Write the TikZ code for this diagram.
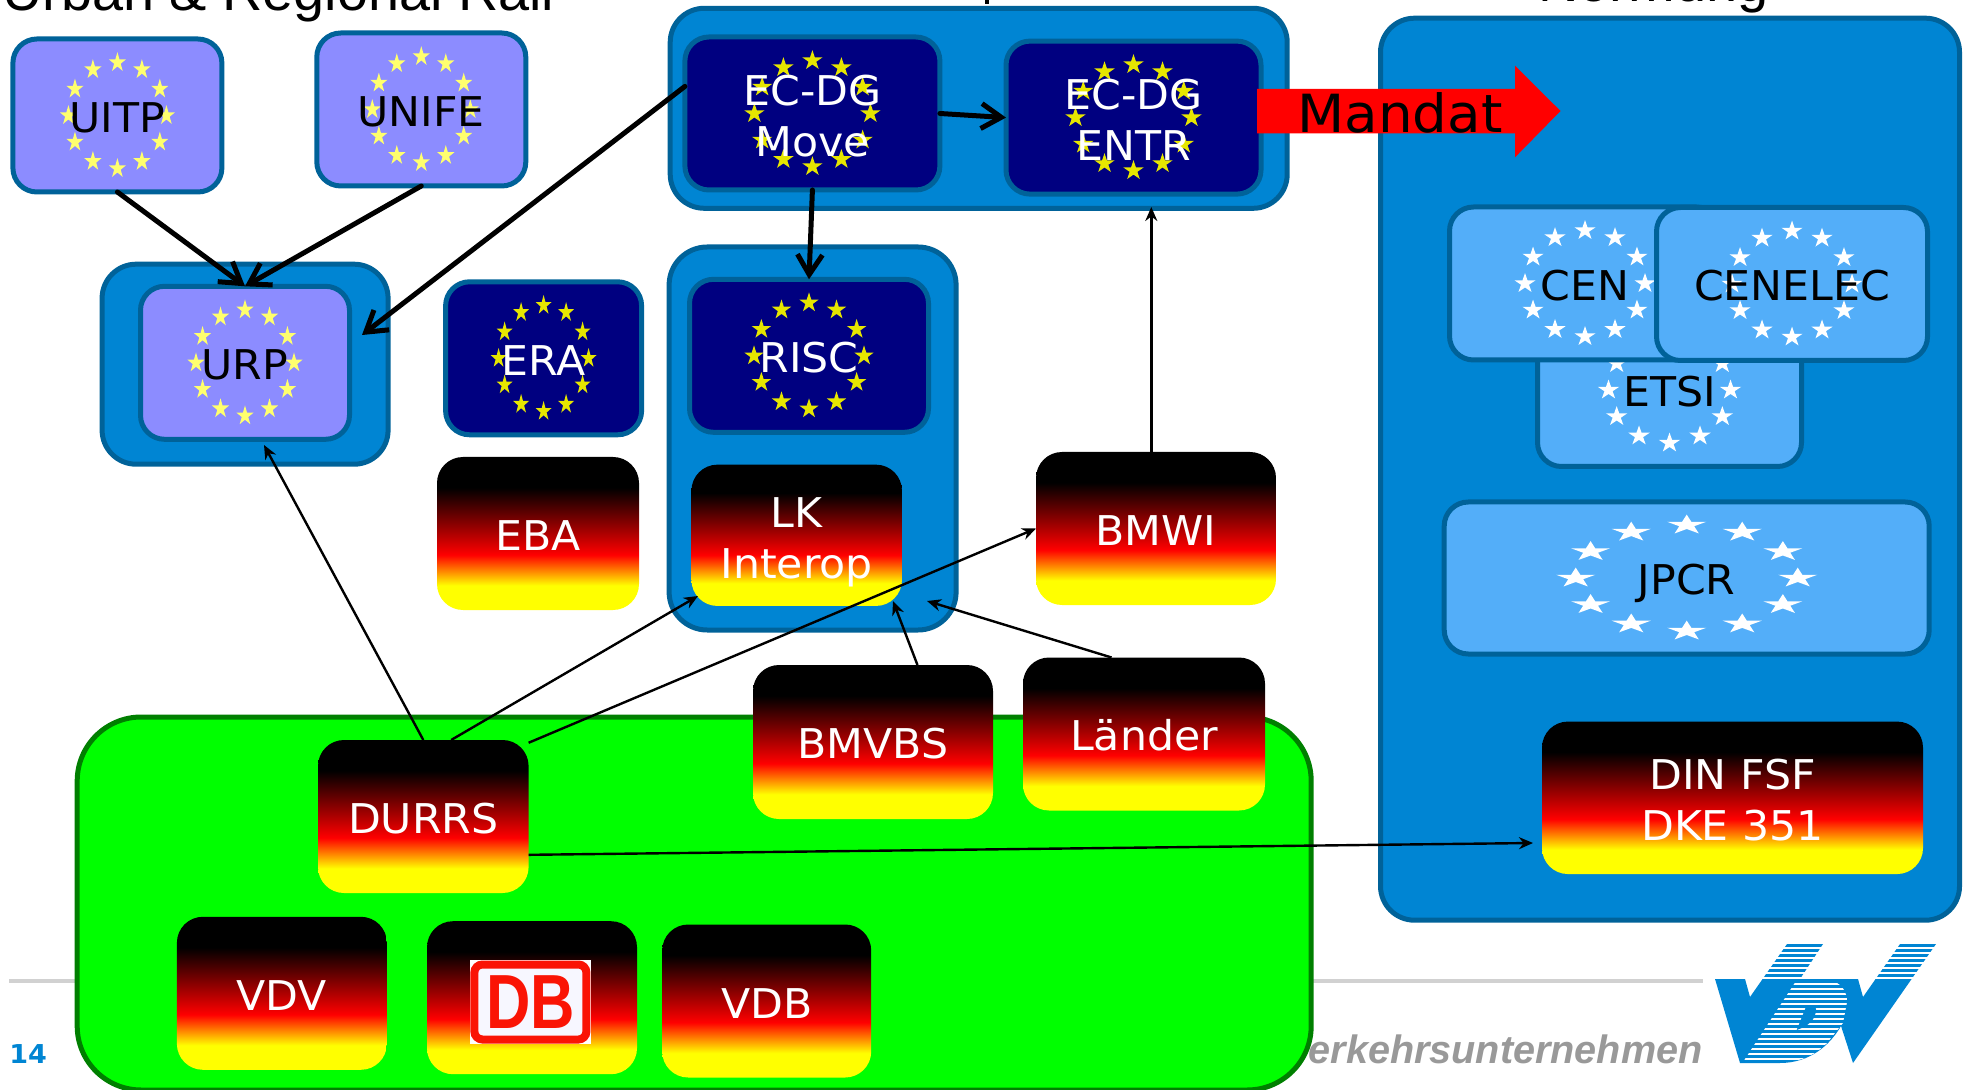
\documentclass[tikz,border=0pt]{standalone}
\usepackage{fontspec}
\setmainfont[FakeStretch=1.04]{DejaVu Sans}
\newfontfamily\titlefont{Liberation Sans}
\newfontfamily\logofont[FakeStretch=.8]{Liberation Sans}
\usetikzlibrary{arrows.meta}

\definecolor{groupblue}{RGB}{0,133,211}
\definecolor{edgeblue}{RGB}{0,98,153}
\definecolor{navyeu}{RGB}{0,0,128}
\definecolor{purpleeu}{RGB}{140,140,255}
\definecolor{lighteu}{RGB}{83,174,249}
\definecolor{stardark}{RGB}{230,230,0}
\definecolor{starlight}{RGB}{255,255,110}
\definecolor{edgegreen}{RGB}{0,127,0}
\definecolor{dbred}{RGB}{250,20,5}

\pgfdeclareverticalshading{flagshade}{100bp}{color(0bp)=(yellow); color(33bp)=(yellow); color(43bp)=(red); color(65bp)=(black); color(100bp)=(black)}

\newcommand{\eurostars}[3]{%
  \foreach \a in {0,30,...,330}
    \fill[#3,sharp corners] (path picture bounding box.center) ++(\a:#1 and #2)
      +(-90:#1/5.4 and 10.4) -- +(-54:.38*#1/5.4 and 4) -- +(-18:#1/5.4 and 10.4) -- +(18:.38*#1/5.4 and 4)
      -- +(54:#1/5.4 and 10.4) -- +(90:.38*#1/5.4 and 4) -- +(126:#1/5.4 and 10.4) -- +(162:.38*#1/5.4 and 4)
      -- +(198:#1/5.4 and 10.4) -- +(234:.38*#1/5.4 and 4) -- cycle;%
}

\tikzset{
  boxsize/.style 2 args={minimum width=#1*.5pt,minimum height=#2*.5pt},
  labeltext/.style={font=\fontsize{20.5}{25.7}\selectfont,align=center,inner sep=0pt,outer sep=0pt,execute at begin node={\rule{0pt}{17pt}}},
  firstline/.style={execute at begin node={\rule{0pt}{#1}}},
  groupbox/.style={draw=edgeblue,fill=groupblue,line width=2.5pt,rounded corners=17pt,inner sep=0pt,outer sep=0pt},
  eubox/.style={labeltext,draw=edgeblue,line width=2.5pt,rounded corners=12pt},
  eunavy/.style={eubox,fill=navyeu,text=white,path picture={\eurostars{#1}{53}{stardark}}},
  eupurple/.style={eubox,fill=purpleeu,text=black,path picture={\eurostars{#1}{53}{starlight}}},
  eulight/.style={eubox,fill=lighteu,text=black,path picture={\eurostars{#1}{53}{white}}},
  flagbox/.style={labeltext,shade,shading=flagshade,text=white,rounded corners=13pt},
  bigarrow/.style={line width=2.5pt,line cap=round,-{Straight Barb[length=10pt,width=12.5pt]}},
  thinarrow/.style={line width=1.2pt,-{Stealth[length=7pt,width=6pt]}}
}

\begin{document}
\begin{tikzpicture}[x=.5pt,y=-.5pt]
    \useasboundingbox (0,0) rectangle (1964,1090);

    \coordinate (ruleA) at (9,981);
    \coordinate (ruleB) at (1703,981);
    \draw[line width=2pt,black!18] (ruleA) -- (ruleB);
    \node[anchor=base east,inner sep=0pt,text=black!40,font=\titlefont\bfseries\itshape\fontsize{19.8}{22}\selectfont] (slogan) at (1703,1063) {Verkehrsunternehmen};
    \node[anchor=base west,inner sep=0pt,text=groupblue,font=\bfseries\fontsize{13}{15}\selectfont] (pagenum) at (9,1063) {14};

    \node[anchor=base west,inner sep=0pt,font=\titlefont\fontsize{27.9}{30}\selectfont] (urban) at (2,11) {Urban \& Regional Rail};
    \node[anchor=base west,inner sep=0pt,font=\titlefont\fontsize{28}{30}\selectfont] (normung) at (1538,2) {Normung};
    \fill (984.5,0) rectangle (989,3.7);

    \node[draw=edgegreen,fill=green,line width=2.5pt,rounded corners=32pt,boxsize={1234}{373},inner sep=0pt] (nation) at (694.2,903.5) {};
    \node[groupbox,boxsize={286}{200}] (urpgroup) at (245.1,364.2) {};
    \node[groupbox,boxsize={617}{200}] (eugroup) at (978.7,108.3) {};
    \node[groupbox,boxsize={287}{383},rounded corners=19pt] (riscgroup) at (812.6,438.5) {};
    \node[groupbox,boxsize={579}{902}] (normgroup) at (1670,469.2) {};

    \node[eupurple=49,boxsize={209}{153}] (uitp) at (117.4,115.5) {UITP};
    \node[eupurple=49,boxsize={209}{153}] (unife) at (421.3,109.5) {UNIFE};
    \node[eupurple=49,boxsize={209}{153}] (urp) at (245,362.8) {URP};
    \node[eunavy=45,boxsize={196}{153}] (era) at (543.6,358.3) {ERA};
    \node[eunavy=58,boxsize={255}{153},firstline=0pt] (move) at (812.4,113.5) {\rule{0pt}{17.5pt}EC-DG\\Move};
    \node[eunavy=58,boxsize={255}{153},firstline=0pt] (entr) at (1133.5,117.6) {\rule{0pt}{17.5pt}EC-DG\\ENTR};
    \node[eunavy=55,boxsize={239}{153}] (risc) at (809,355.8) {RISC};
    \node[eulight=61,boxsize={264}{153}] (etsi) at (1669.5,390) {ETSI};
    \node[eulight=60,boxsize={271}{153}] (cen) at (1585,283.5) {CEN};
    \node[eulight=60,boxsize={271}{153}] (cenelec) at (1792,284) {CENELEC};
    \node[eulight=111,boxsize={485}{152},firstline=21pt] (jpcr) at (1686.7,578) {JPCR};

    \node[flagbox,boxsize={202}{153}] (eba) at (538,533.5) {EBA};
    \node[flagbox,boxsize={210.5}{141.3},firstline=0pt] (lk) at (796.7,535.3) {\rule{0pt}{22pt}LK\\Interop};
    \node[flagbox,boxsize={240}{153}] (bmwi) at (1156,528.5) {BMWI};
    \node[flagbox,boxsize={240}{154}] (bmvbs) at (873,742) {BMVBS};
    \node[flagbox,boxsize={242}{153}] (laender) at (1144,734) {Länder};
    \node[flagbox,boxsize={210.6}{153}] (durrs) at (423.3,816.5) {DURRS};
    \node[flagbox,boxsize={210}{153}] (vdv) at (281.9,993.3) {VDV};
    \node[flagbox,boxsize={210}{153}] (db) at (532,997.7) {};
    \node[flagbox,boxsize={209}{153}] (vdb) at (766.7,1001) {VDB};
    \node[flagbox,boxsize={381}{152.5},firstline=0pt] (din) at (1732.5,797.8) {\rule{0pt}{17.5pt}DIN FSF\\DKE 351};

    \node[fill=white,boxsize={121}{84},inner sep=0pt] (dbback) at (530.4,1002) {};
    \node[draw=dbred,fill=white!97!blue,line width=4pt,rounded corners=4pt,boxsize={112}{75},inner sep=0pt,text=dbred,font=\logofont\bfseries\fontsize{38.4}{40}\selectfont] (dblogo) at (530.4,1002) {DB};

    \fill[red] (1257,89) -- (1515,89) -- (1515,65.7) -- (1560.5,111) -- (1515,157.3) -- (1515,133.3) -- (1257,133.3) -- cycle;
    \node[anchor=base,inner sep=0pt,font=\fontsize{26.3}{30}\selectfont] (mandat) at (1400,133) {Mandat};

    \coordinate (urpside) at (362,335);
    \coordinate (urpfoot) at (264,445);
    \coordinate (entrfoot) at (1151.3,207);
    \coordinate (lkleft) at (698,596);
    \coordinate (lkmid) at (893,601);
    \coordinate (lkright) at (927,601);
    \coordinate (dinleft) at (1533,843);

    \draw[bigarrow] (uitp.south) -- (urp.north);
    \draw[bigarrow] (unife.south) -- (urp.north);
    \draw[bigarrow] (move.168) -- (urpside);
    \draw[bigarrow] (move.east) -- (entr.west);
    \draw[bigarrow] (move.south) -- (risc.north);

    \draw[thinarrow] (entrfoot |- bmwi.north) -- (entrfoot);
    \draw[thinarrow] (durrs.north) -- (urpfoot);
    \draw[thinarrow] (durrs.70) -- (lkleft);
    \draw[thinarrow] (durrs.35) -- (bmwi.west);
    \draw[thinarrow] (durrs.-20) -- (dinleft);
    \draw[thinarrow] (bmvbs.60) -- (lkmid);
    \draw[thinarrow] (laender.113) -- (lkright);

    \fill[groupblue] (1715,979) -- (1745,979) -- (1750,997) -- (1787,944) -- (1823,944) -- (1800,979) -- (1858,979) -- (1863,997) -- (1900,944) -- (1936,944) -- (1853,1063) -- (1841,1026) .. controls (1830,1045) and (1810,1063) .. (1780,1063) -- (1740,1063) -- cycle;
    \foreach \yy in {948,953,...,978}
        \draw[white,line width=.6pt] (1760,\yy) -- (1940,\yy);
    \begin{scope}
        \clip (1796.7,980) -- (1828,980) .. controls (1842,982) and (1847,992) .. (1847,1002) -- (1843,1023) -- (1827,1043) .. controls (1815,1055) and (1805,1059) .. (1790,1062) -- (1743,1062) -- cycle;
        \foreach \yy in {984,989,...,1060}
            \draw[white,line width=1.35pt] (1740,\yy) -- (1850,\yy);
    \end{scope}
    \fill[groupblue] (1806.7,1005) .. controls (1812,1005) and (1816,1006) .. (1816,1009) .. controls (1816,1020) and (1808,1026) .. (1796.7,1030) -- cycle;
\end{tikzpicture}
\end{document}
